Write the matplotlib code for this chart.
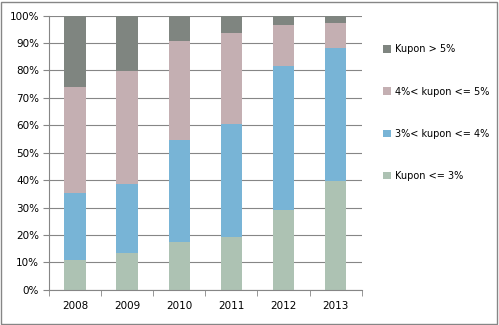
import matplotlib.pyplot as plt
import numpy as np
from matplotlib.patches import Rectangle
from matplotlib.ticker import PercentFormatter

years = ['2008', '2009', '2010', '2011', '2012', '2013']
# share of each coupon band, per cent
kupon_le3 = [11.0, 13.6, 17.6, 19.4, 29.2, 39.8]
kupon_3_4 = [24.3, 24.9, 37.1, 41.1, 52.4, 48.4]
kupon_4_5 = [38.8, 41.4, 36.1, 33.1, 15.1, 9.1]
kupon_gt5 = [25.9, 20.1, 9.2, 6.4, 3.3, 2.7]

series = [
    ('Kupon <= 3%', kupon_le3, '#adc2b3'),
    ('3%< kupon <= 4%', kupon_3_4, '#78b4d6'),
    ('4%< kupon <= 5%', kupon_4_5, '#c4afb2'),
    ('Kupon > 5%', kupon_gt5, '#7f8580'),
]

fig = plt.figure(figsize=(4.99, 3.25), dpi=100)
ax = fig.add_axes([0.098, 0.108, 0.627, 0.844])

x = np.arange(len(years))
bottom = np.zeros(len(years))
handles = []
for label, vals, col in series:
    h = ax.bar(x, vals, width=0.41, bottom=bottom, color=col, label=label, zorder=2)
    handles.append(h)
    bottom += np.array(vals)

ax.set_xlim(-0.5, len(years) - 0.5)
ax.set_ylim(0, 100)
ax.set_yticks(np.arange(0, 101, 10))
ax.yaxis.set_major_formatter(PercentFormatter(decimals=0))
ax.set_xticks(x)
ax.set_xticklabels(years)
ax.set_xticks(np.arange(-0.5, len(years), 1), minor=True)
ax.tick_params(axis='x', which='major', length=0, pad=8)
ax.tick_params(axis='x', which='minor', length=4, direction='out', color='#868686')
ax.tick_params(axis='y', length=4, color='#868686', pad=3)
ax.tick_params(labelsize=7.5)
ax.grid(axis='y', color='#868686', linewidth=0.8, zorder=0)
for s in ['top', 'right']:
    ax.spines[s].set_visible(False)
for s in ['left', 'bottom']:
    ax.spines[s].set_color('#868686')

fig.legend(handles[::-1], [s[0] for s in series][::-1], loc='upper left',
           bbox_to_anchor=(0.75, 0.89), frameon=False, fontsize=7,
           handlelength=0.8, handleheight=0.8, handletextpad=0.4, labelspacing=3.3)

fig.patches.append(Rectangle((0.002, 0.004), 0.994, 0.99, transform=fig.transFigure,
                             fill=False, edgecolor='#868686', linewidth=1))

fig.savefig('out.png', dpi=100)
